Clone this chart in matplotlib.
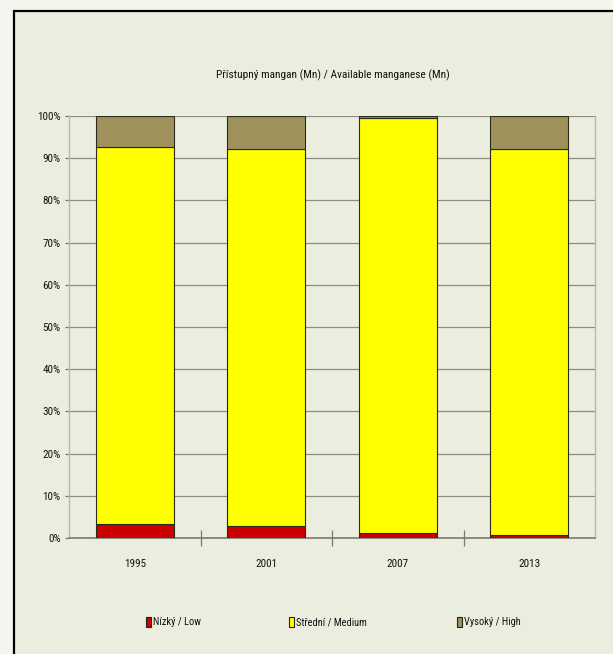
import matplotlib
matplotlib.use("Agg")
import matplotlib.pyplot as plt
from matplotlib.patches import Rectangle
from matplotlib.ticker import PercentFormatter, MultipleLocator

years = ["1995", "2001", "2007", "2013"]
low = [3.4, 2.9, 1.2, 0.6]
medium = [89.25, 89.2, 98.4, 91.5]
high = [7.35, 7.9, 0.4, 7.9]
series_names = ["Nízký / Low", "Střední / Medium", "Vysoký / High"]
title = "Přístupný mangan (Mn) / Available manganese (Mn)"

colors = ["#cc0000", "#ffff00", "#9e915c"]
panel_bg = "#ebeede"
outer_bg = "#f3f5ee"
text_col = "#111111"
plt.rcParams["font.family"] = ["Liberation Sans Narrow", "Roboto Condensed",
                               "Open Sans Condensed", "Liberation Sans", "DejaVu Sans"]

W, H = 613, 654
fig = plt.figure(figsize=(W / 100, H / 100), dpi=100, facecolor=outer_bg)

# framed chart panel behind the axes
fig.patches.append(Rectangle((14 / W, -0.1), 1.2, (H - 11) / H + 0.1,
                             transform=fig.transFigure, facecolor=panel_bg,
                             edgecolor="black", linewidth=1.6, zorder=-5))

ax = fig.add_axes([69 / W, (H - 538) / H, (595 - 69) / W, (538 - 116) / H])
ax.set_facecolor(panel_bg)

x = list(range(len(years)))
bottoms = [0.0] * len(years)
handles = []
for vals, col in zip([low, medium, high], colors):
    ax.bar(x, vals, width=0.59, bottom=bottoms, color=col,
           edgecolor="#2a2a1a", linewidth=0.8, zorder=3)
    bottoms = [b + v for b, v in zip(bottoms, vals)]
    handles.append(Rectangle((0, 0), 1, 1, facecolor=col, edgecolor="#222222", linewidth=0.8))

ax.set_xlim(-0.5, len(years) - 0.5)
ax.set_ylim(0, 100)
ax.yaxis.set_major_locator(MultipleLocator(10))
ax.yaxis.set_major_formatter(PercentFormatter(decimals=0))
ax.grid(axis="y", color="#8c8c84", linewidth=0.9, zorder=1)
ax.set_axisbelow(True)

# category separators as major ticks, year labels on minor ticks
ax.set_xticks([i + 0.5 for i in range(len(years) - 1)])
ax.set_xticklabels([])
ax.set_xticks(x, minor=True)
ax.set_xticklabels(years, minor=True)
ax.tick_params(axis="x", which="major", direction="inout", length=12, width=0.9, color="#7a7a72")
ax.tick_params(axis="x", which="minor", length=0, pad=15, labelsize=8, labelcolor=text_col)
ax.tick_params(axis="y", direction="out", length=3, width=0.9, color="#7a7a72",
               labelsize=8, labelcolor=text_col, pad=3)

for side in ["left", "right"]:
    ax.spines[side].set_color("#b8b8b0")
    ax.spines[side].set_linewidth(1.0)
ax.spines["top"].set_visible(False)
ax.spines["bottom"].set_color("#7a7a72")
ax.spines["bottom"].set_linewidth(1.2)

fig.text(333 / W, (H - 75) / H, title, ha="center", va="center",
         fontsize=8.2, color=text_col)

# one legend entry per series, spaced along the bottom
legend_x = [146, 289, 457]
for h, name, lx in zip(handles, series_names, legend_x):
    fig.legend([h], [name], loc="center left", bbox_to_anchor=(lx / W, (H - 622) / H),
               frameon=False, fontsize=7.5, handlelength=0.5, handleheight=1.2,
               handletextpad=0.15, borderpad=0, borderaxespad=0, labelcolor=text_col)

fig.savefig("out.png", dpi=100, facecolor=outer_bg)
